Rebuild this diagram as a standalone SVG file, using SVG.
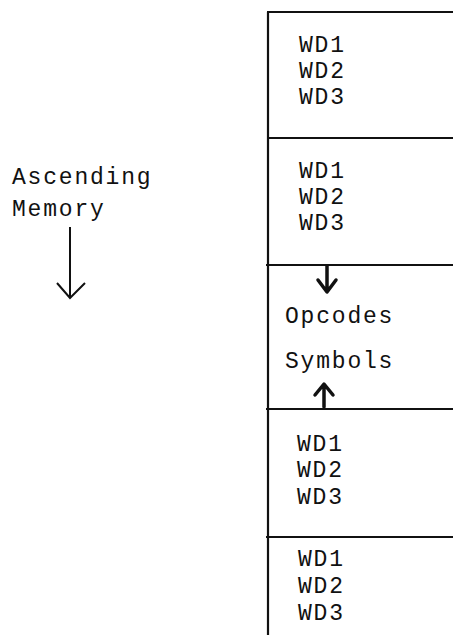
<svg xmlns="http://www.w3.org/2000/svg" width="453" height="635" viewBox="0 0 453 635">
  <style>
    .t { font-family: "Liberation Mono", "Courier New", monospace; font-size: 23px; letter-spacing: 1.8px; fill: #111; }
    .ln { stroke: #111; stroke-width: 2.2; fill: none; }
    .ar { stroke: #111; stroke-width: 2; fill: none; }
    .arb { stroke: #111; stroke-width: 3.5; fill: none; stroke-linecap: round; stroke-linejoin: round; }
  </style>
  <rect width="453" height="635" fill="#fff"/>

  <g id="label-ascending-memory">
    <text class="t" x="12" y="184">Ascending</text>
    <text class="t" x="12" y="216">Memory</text>
  </g>

  <g id="frame">
    <line class="ln" x1="268" y1="12" x2="268" y2="635"/>
    <line class="ln" x1="267" y1="12" x2="453" y2="12"/>
  </g>

  <g id="box1">
    <text class="t" x="299" y="52">WD1</text>
    <text class="t" x="299" y="78">WD2</text>
    <text class="t" x="299" y="104">WD3</text>
    <line class="ln" x1="267" y1="138" x2="453" y2="138"/>
  </g>

  <g id="box2">
    <text class="t" x="299" y="178">WD1</text>
    <text class="t" x="299" y="204">WD2</text>
    <text class="t" x="299" y="230">WD3</text>
    <line class="ln" x1="266" y1="265" x2="453" y2="265"/>
  </g>

  <g id="box3">
    <text class="t" x="285" y="323">Opcodes</text>
    <text class="t" x="285" y="368">Symbols</text>
    <line class="ln" x1="266" y1="409" x2="453" y2="409"/>
  </g>

  <g id="box4">
    <text class="t" x="297" y="451">WD1</text>
    <text class="t" x="297" y="477">WD2</text>
    <text class="t" x="297" y="504">WD3</text>
    <line class="ln" x1="266" y1="537" x2="453" y2="537"/>
  </g>

  <g id="box5">
    <text class="t" x="298" y="566">WD1</text>
    <text class="t" x="298" y="593">WD2</text>
    <text class="t" x="298" y="620">WD3</text>
  </g>

  <g id="connectors">
    <path class="ar" d="M70 227 V298 M57 283 L70 298 L85 283"/>
    <path class="arb" d="M327 266 V292 M318 280 L327 292 L336 280"/>
    <path class="arb" d="M324 407 V385 M315 395 L324 384 L333 395"/>
  </g>
</svg>
